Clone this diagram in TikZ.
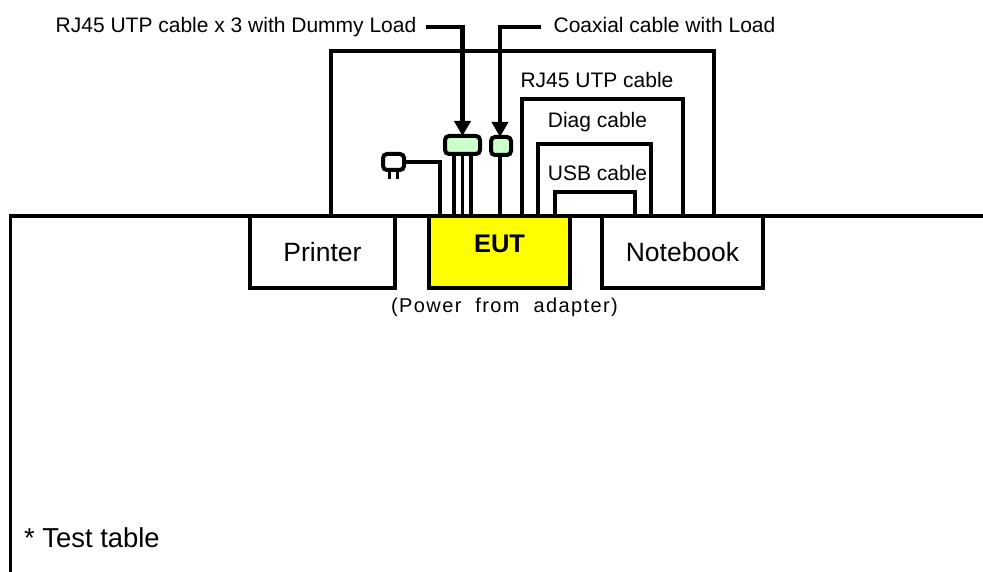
\documentclass[tikz,border=0pt]{standalone}
\usepackage{fontspec}
\setmainfont{Liberation Sans}
\newfontfamily\powerfont[LetterSpace=7,WordSpace=2]{Liberation Sans}
\usepackage{xcolor}
\usetikzlibrary{arrows.meta, positioning, calc}
\definecolor{eutyellow}{RGB}{255,255,0}
\definecolor{loadgreen}{RGB}{204,255,204}
\tikzset{
    devblock/.style={rectangle, draw=black, fill=#1, line width=3.5pt, outer sep=0pt, minimum height=72pt, font=\fontsize{26.5}{30}\selectfont},
    loadblock/.style={rectangle, draw=black, fill=#1, rounded corners=4pt, line width=4pt, outer sep=0pt, inner sep=0pt, minimum height=18pt},
    cablelabel/.style={font=\fontsize{21}{25}\selectfont, inner sep=0pt},
    cableline/.style={draw=black, line width=3.5pt, line join=miter},
    leadarrow/.style={-{Triangle[length=15pt, width=16pt]}, draw=black, line width=#1}
}

\begin{document}
\begin{tikzpicture}[x=1pt, y=-1pt]
\useasboundingbox (0,0) rectangle (983,572);

% test table
\coordinate (tabletl) at (10.5,216);
\draw[cableline] (983,216) -- (tabletl) -- (10.5,572);
\node[anchor=west, inner sep=0pt, font=\fontsize{27.4}{32}\selectfont] (tablelabel) at (24,538) {* Test table};

% cables behind the devices
\draw[cableline] (331,216) |- (714,51) -- (714,216);
\draw[cableline] (522,216) |- (683,99) -- (683,216);
\draw[cableline] (538,216) |- (651,144) -- (651,216);
\draw[cableline] (555,216) |- (635,192) -- (635,216);

% devices
\node[devblock=white, minimum width=145pt] (printer) at (322.5,252) {Printer};
\node[devblock=eutyellow, minimum width=141pt, line width=4.5pt, font=\fontsize{25.5}{30}\selectfont\bfseries, text depth=16pt] (eut) at (499.5,252) {EUT};
\node[devblock=white, minimum width=161pt] (notebook) at (682.5,252) {Notebook};
\node[inner sep=0pt, font=\fontsize{20}{24}\powerfont] (power) at (504.5,307) {(Power from adapter)};

% labels of the cables
\node[cablelabel] (rjlabel) at (236,27) {RJ45 UTP cable x 3 with Dummy Load};
\node[cablelabel] (coaxlabel) at (664.5,25) {Coaxial cable with Load};
\node[cablelabel] (rjcable) at (597,80) {RJ45 UTP cable};
\node[cablelabel] (diagcable) at (597.5,122) {Diag cable};
\node[cablelabel] (usbcable) at (597.5,173) {USB cable};

% loads and plug
\node[loadblock=loadgreen, minimum width=35pt] (rjload) at (462.5,145) {};
\node[loadblock=loadgreen, minimum width=20pt] (coaxload) at (501,146) {};
\node[loadblock=white, minimum width=21pt, minimum height=16pt] (plug) at (393.5,162) {};

\foreach \dx in {-8.5,0,8.5} {
    \draw[cableline] ([xshift=\dx]rjload.south) -- ([xshift=\dx]rjload.south |- eut.north);
}
\draw[cableline] ([xshift=-1pt]coaxload.south) -- ([xshift=-1pt]coaxload.south |- eut.north);
\draw[cableline] (plug.east) -| (440,216);
\foreach \dx in {-4,4} {
    \draw[cableline] ([xshift=\dx]plug.south) -- ++(0,9);
}

% arrows to the loads
\draw[leadarrow=4.5pt] (426,27) -| (rjload.north);
\draw[leadarrow=3.5pt] (541,27) -| ([xshift=-1pt]coaxload.north);

\end{tikzpicture}
\end{document}
